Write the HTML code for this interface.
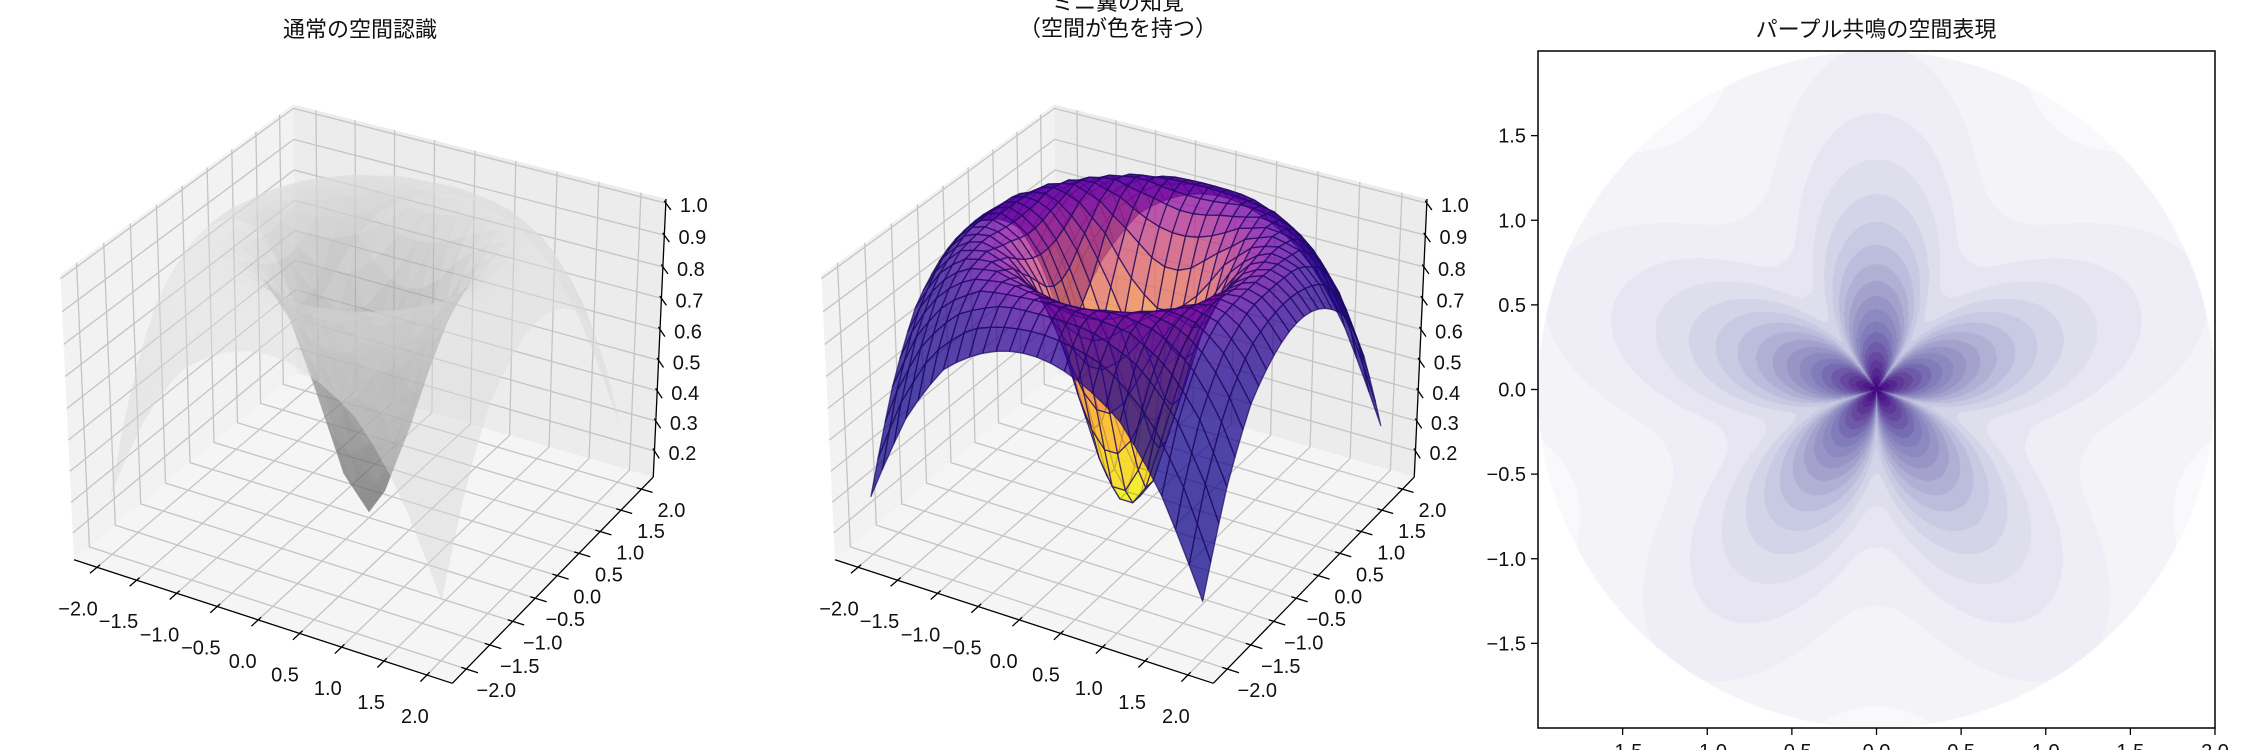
<!DOCTYPE html>
<html><head><meta charset="utf-8">
<style>
body{margin:0;background:#fff;width:2250px;height:750px;overflow:hidden;position:relative;font-family:"Liberation Sans","Noto Sans CJK JP",sans-serif}
#cv{position:absolute;left:1538px;top:51px}
#s{position:absolute;left:0;top:0}
text{font-family:"Liberation Sans","Noto Sans CJK JP",sans-serif;fill:#111}
</style></head>
<body>
<canvas id="cv" width="677" height="677"></canvas>
<svg id="s" width="2250" height="750" xmlns="http://www.w3.org/2000/svg">
<g id="p1"></g>
<g id="p2"></g>
<g id="p3"></g>
<text x="360" y="37" font-size="22" text-anchor="middle">通常の空間認識</text>
<text x="1118" y="10" font-size="22" text-anchor="middle">ミニ翼の知覚</text>
<text x="1118" y="36" font-size="22" text-anchor="middle">（空間が色を持つ）</text>
<text x="1876" y="37" font-size="22" text-anchor="middle">パープル共鳴の空間表現</text>
</svg>
<script>
// ---- data ----
const xTicks=[-2,-1.5,-1,-0.5,0,0.5,1,1.5,2];
const yTicks=[-2,-1.5,-1,-0.5,0,0.5,1,1.5,2];
const zTicks=[0.2,0.3,0.4,0.5,0.6,0.7,0.8,0.9,1.0];
const profR=[0,0.25,0.5,0.75,1.0,1.25,1.5,1.75,2.0,2.25,2.5,2.83];
const profZ=[0.13,0.24,0.47,0.72,0.88,0.96,0.99,0.97,0.9,0.78,0.6,0.3];
const contourTicks=[-1.5,-1,-0.5,0,0.5,1,1.5,2];
const petalCount=[5];
const contourLevels=[20];

const NS='http://www.w3.org/2000/svg';
function mk(par,tag,attrs){const e=document.createElementNS(NS,tag);for(const k in attrs)e.setAttribute(k,attrs[k]);par.appendChild(e);return e;}
function interp(r){if(r>=profR[profR.length-1])return profZ[profZ.length-1];for(let i=1;i<profR.length;i++){if(r<=profR[i]){const t=(r-profR[i-1])/(profR[i]-profR[i-1]);return profZ[i-1]+t*(profZ[i]-profZ[i-1]);}}}
function zf(x,y){return interp(Math.hypot(x,y));}

const BX=1.1905,BZ=0.8929,R0=[BX/2,BX/2,BZ/2];
const XL=[-2.293,2.293],ZL=[0.112,1.0126];
const U=[0.866,0.5,0],V=[-0.25,0.433,0.866],PS=[0.433,-0.75,0.5];
const S=3640,OY=380;
function toBox(x,y,z){return[(x-XL[0])/(XL[1]-XL[0])*BX,(y-XL[0])/(XL[1]-XL[0])*BX,(z-ZL[0])/(ZL[1]-ZL[0])*BZ];}
function projB(X,Y,Z,ox){const d=[X-R0[0],Y-R0[1],Z-R0[2]];const dep=10-(PS[0]*d[0]+PS[1]*d[1]+PS[2]*d[2]);
 return[ox+S*(U[0]*d[0]+U[1]*d[1])/dep,OY-S*(V[0]*d[0]+V[1]*d[1]+V[2]*d[2])/dep,dep];}
function proj(x,y,z,ox){const b=toBox(x,y,z);return projB(b[0],b[1],b[2],ox);}
function pts(a){return a.map(p=>p[0].toFixed(1)+','+p[1].toFixed(1)).join(' ');}

function hexc(h){return[parseInt(h.substr(1,2),16),parseInt(h.substr(3,2),16),parseInt(h.substr(5,2),16)];}
function cmap(stops,t){t=Math.max(0,Math.min(1,t));const n=stops.length-1;const i=Math.min(n-1,Math.floor(t*n));const f=t*n-i;const a=hexc(stops[i]),b=hexc(stops[i+1]);return a.map((v,k)=>Math.round(v+(b[k]-v)*f));}
const plasma=['#0d0887','#41049d','#6a00a8','#8f0da4','#b12a90','#cc4778','#e16462','#f2844b','#fca636','#fcce25','#f0f921'];
const purples=['#fcfbfd','#efedf5','#dadaeb','#bcbddc','#9e9ac8','#807dba','#6a51a3','#54278f','#3f007d'];

function axes3d(g,ox,tag){
 const P=(X,Y,Z)=>projB(X,Y,Z,ox);
 let e;
 e=mk(g,'polygon',{points:pts([P(0,0,0),P(0,BX,0),P(0,BX,BZ),P(0,0,BZ)]),fill:'#f2f2f2'});
 
 e=mk(g,'polygon',{points:pts([P(0,BX,0),P(BX,BX,0),P(BX,BX,BZ),P(0,BX,BZ)]),fill:'#ececec'});
 
 e=mk(g,'polygon',{points:pts([P(0,0,0),P(BX,0,0),P(BX,BX,0),P(0,BX,0)]),fill:'#f5f5f5'});
 
 const gs={stroke:'#c4c4c4','stroke-width':1.3,fill:'none'};
 xTicks.forEach(t=>{const X=toBox(t,0,0.5)[0];
  e=mk(g,'polyline',Object.assign({points:pts([P(X,0,0),P(X,BX,0),P(X,BX,BZ)])},gs));
  });
 yTicks.forEach(t=>{const Y=toBox(0,t,0.5)[1];
  e=mk(g,'polyline',Object.assign({points:pts([P(BX,Y,0),P(0,Y,0),P(0,Y,BZ)])},gs));
  });
 zTicks.forEach(t=>{const Z=toBox(0,0,t)[2];
  e=mk(g,'polyline',Object.assign({points:pts([P(0,0,Z),P(0,BX,Z),P(BX,BX,Z)])},gs));
  });
 const ax={stroke:'#000','stroke-width':1.3};
 e=mk(g,'line',Object.assign({x1:P(0,0,0)[0],y1:P(0,0,0)[1],x2:P(BX,0,0)[0],y2:P(BX,0,0)[1]},ax));
 
 e=mk(g,'line',Object.assign({x1:P(BX,0,0)[0],y1:P(BX,0,0)[1],x2:P(BX,BX,0)[0],y2:P(BX,BX,0)[1]},ax));
 
 e=mk(g,'line',Object.assign({x1:P(BX,BX,0)[0],y1:P(BX,BX,0)[1],x2:P(BX,BX,BZ)[0],y2:P(BX,BX,BZ)[1]},ax));
 
 const n=xTicks.length;
 xTicks.forEach((t,i)=>{const X=toBox(t,0,0.5)[0];const a=P(X,0.015,0),b=P(X,-0.035,0);
  e=mk(g,'line',Object.assign({x1:a[0],y1:a[1],x2:b[0],y2:b[1]},ax));
  
  const p=P(X,0,0);const f=i/(n-1);
  e=mk(g,'text',{x:p[0]-19+7*f,y:p[1]+48,'font-size':20,'text-anchor':'middle'});e.textContent=t.toFixed(1).replace('-','−');
  });
 yTicks.forEach((t,i)=>{const Y=toBox(0,t,0.5)[1];const a=P(BX-0.015,Y,0),b=P(BX+0.035,Y,0);
  e=mk(g,'line',Object.assign({x1:a[0],y1:a[1],x2:b[0],y2:b[1]},ax));
  
  const p=P(BX,Y,0);
  e=mk(g,'text',{x:p[0]+30,y:p[1]+28,'font-size':20,'text-anchor':'middle'});e.textContent=t.toFixed(1).replace('-','−');
  });
 zTicks.forEach(t=>{const Z=toBox(0,0,t)[2];const a=P(BX-0.01,BX+0.01,Z),b=P(BX+0.03,BX-0.03,Z);
  e=mk(g,'line',Object.assign({x1:a[0],y1:a[1],x2:b[0],y2:b[1]},ax));
  
  const p=P(BX,BX,Z);
  e=mk(g,'text',{x:p[0]+28,y:p[1]+9,'font-size':20,'text-anchor':'middle'});e.textContent=t.toFixed(1);
  });
}

function surface(g,ox,N,mode,tag){
 const polys=[];
 const st=4/(N-1);
 for(let i=0;i<N-1;i++)for(let j=0;j<N-1;j++){
  const xs=[-2+i*st,-2+(i+1)*st],ys=[-2+j*st,-2+(j+1)*st];
  const c=[[xs[0],ys[0]],[xs[1],ys[0]],[xs[1],ys[1]],[xs[0],ys[1]]].map(q=>[q[0],q[1],zf(q[0],q[1])]);
  const groups=mode==='tri'?[[c[0],c[1],c[2]],[c[0],c[2],c[3]]]:[c];
  groups.forEach(gr=>{const pp=gr.map(q=>proj(q[0],q[1],q[2],ox));
   const dep=pp.reduce((s,q)=>s+q[2],0)/pp.length;
   const cx=gr.reduce((s,q)=>s+q[0],0)/gr.length,cy=gr.reduce((s,q)=>s+q[1],0)/gr.length;
   polys.push({pp,dep,r:Math.hypot(cx,cy),gr});});
 }
 polys.sort((a,b)=>b.dep-a.dep);
 polys.forEach(p=>{let e;
  if(mode==='tri'){
   const a=p.gr[0],b=p.gr[1],c=p.gr[2];
   const u=[b[0]-a[0],b[1]-a[1],b[2]-a[2]],v=[c[0]-a[0],c[1]-a[1],c[2]-a[2]];
   const nrm=[u[1]*v[2]-u[2]*v[1],u[2]*v[0]-u[0]*v[2],u[0]*v[1]-u[1]*v[0]];const L=Math.hypot(...nrm)||1;
   const sh=Math.abs(nrm[2]/L);
   const gv=Math.round(255*(0.38+0.5*(1-Math.exp(-p.r*p.r*1.2))*(0.7+0.3*sh)));
   e=mk(g,'polygon',{points:pts(p.pp),fill:`rgb(${gv},${gv},${gv})`,'fill-opacity':0.45});
  }else{
   const col=cmap(plasma,Math.exp(-p.r*p.r/1.4));
   e=mk(g,'polygon',{points:pts(p.pp),fill:`rgb(${col.join(',')})`,'fill-opacity':0.75,stroke:'rgb(30,10,95)','stroke-opacity':0.7,'stroke-width':1.3,'stroke-linejoin':'round'});
  }
  
  
 });
}

const g1=document.getElementById('p1'),g2=document.getElementById('p2'),g3=document.getElementById('p3');
axes3d(g1,369,'left');surface(g1,369,21,'tri','left-surface');
axes3d(g2,1130,'middle');surface(g2,1130,26,'quad','middle-surface');

// contour
const cv=document.getElementById('cv'),ctx=cv.getContext('2d');
const W=677,img=ctx.createImageData(W,W);
const pc=petalCount[0],nl=contourLevels[0];
function field(x,y){const r=Math.hypot(x,y),th=Math.atan2(y,x);const P=(1+Math.sin(pc*th))/2;
 return 0.55*Math.exp(-r/(0.04+0.55*Math.sqrt(P)))+0.45*Math.exp(-r/(0.85+0.35*P));}
for(let py=0;py<W;py++)for(let px=0;px<W;px++){
 const x=-2+(px+0.5)/W*4,y=2-(py+0.5)/W*4;const k=(py*W+px)*4;
 if(x*x+y*y>4){img.data[k]=255;img.data[k+1]=255;img.data[k+2]=255;img.data[k+3]=255;continue;}
 const v=field(x,y);const lv=Math.min(nl-1,Math.floor(v*nl));const col=cmap(purples,(lv+0.5)/nl);
 img.data[k]=col[0];img.data[k+1]=col[1];img.data[k+2]=col[2];img.data[k+3]=255;}
ctx.putImageData(img,0,0);

const bx0=1538,by0=51,bw=677;
let e=mk(g3,'rect',{x:bx0,y:by0,width:bw,height:bw,fill:'none',stroke:'#000','stroke-width':1.5});

const sx=v=>bx0+(v+2)/4*bw,sy=v=>by0+(2-v)/4*bw;
contourTicks.forEach(t=>{
 e=mk(g3,'line',{x1:sx(t),y1:by0+bw,x2:sx(t),y2:by0+bw+7,stroke:'#000','stroke-width':1.3});
 
 e=mk(g3,'text',{x:sx(t),y:by0+bw+30,'font-size':20,'text-anchor':'middle'});e.textContent=t.toFixed(1).replace('-','−');
 
 if(t<2){
 e=mk(g3,'line',{x1:bx0-7,y1:sy(t),x2:bx0,y2:sy(t),stroke:'#000','stroke-width':1.3});
 
 e=mk(g3,'text',{x:bx0-12,y:sy(t)+7,'font-size':20,'text-anchor':'end'});e.textContent=t.toFixed(1).replace('-','−');
 }
});
</script>
</body></html>
